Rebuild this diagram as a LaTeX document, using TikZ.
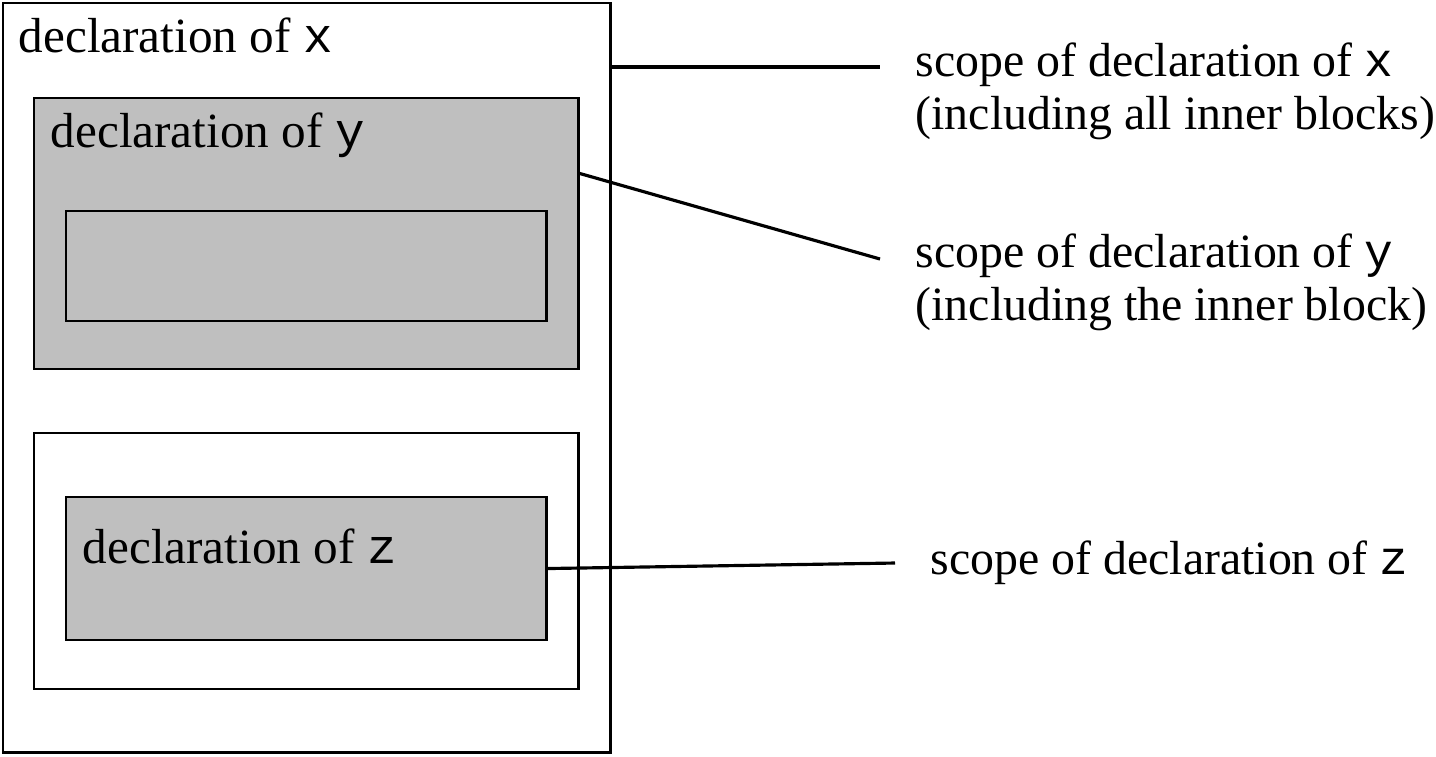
\documentclass[tikz,border=0pt]{standalone}
\usepackage{fontspec}
\setmainfont{Liberation Serif}
\setmonofont{Liberation Mono}
\newcommand{\varname}[1]{\texttt{#1}}
\begin{document}
\begin{tikzpicture}[x=0.01cm, y=-0.01cm, every node/.style={font=\fontsize{14}{15}\selectfont}]
  \tikzset{
    block/.style={draw, line width=0.75pt, inner sep=0pt, outer sep=0pt, anchor=north west},
    declblock/.style={block, fill=gray!50},
    decllbl/.style={inner sep=0pt, anchor=base west},
    scopelbl/.style={inner sep=0pt, anchor=base west, align=left, font=\fontsize{13.6}{15}\selectfont},
    pointer/.style={line width=0.9pt}
  }
  \useasboundingbox (0,0) rectangle (1436,756);

  % outer block (x)
  \node[block, minimum width=6.07cm, minimum height=7.49cm] (xblock) at (3,3) {};
  \node[decllbl] (xdecl) at (18,52) {declaration of \varname{x}};

  % block declaring y, with its inner block
  \node[declblock, minimum width=5.44cm, minimum height=2.71cm] (yblock) at (34,98) {};
  \node[decllbl] (ydecl) at (50,147) {declaration of \varname{y}};
  \node[block, minimum width=4.80cm, minimum height=1.10cm] (inner) at (66,211) {};

  % second block, with the block declaring z
  \node[block, minimum width=5.44cm, minimum height=2.56cm] (second) at (34,433) {};
  \node[declblock, minimum width=4.80cm, minimum height=1.43cm] (zblock) at (66,497) {};
  \node[decllbl] (zdecl) at (82,563) {declaration of \varname{z}};

  % scope labels (anchored at the baseline of the last line)
  \node[scopelbl] (xscope) at (915,129) {scope of declaration of \varname{x}\\(including all inner blocks)};
  \node[scopelbl] (yscope) at (915,320) {scope of declaration of \varname{y}\\(including the inner block)};
  \node[scopelbl] (zscope) at (930,574) {scope of declaration of \varname{z}};

  % pointers
  \coordinate (xend) at (880,67);
  \coordinate (yend) at (880,259);
  \coordinate (zend) at (895,563);
  \draw[pointer] (xblock.east |- xend) -- (xend);
  \draw[pointer] ([yshift=0.605cm]yblock.east) -- (yend);
  \draw[pointer] (zblock.east) -- (zend);
\end{tikzpicture}
\end{document}
